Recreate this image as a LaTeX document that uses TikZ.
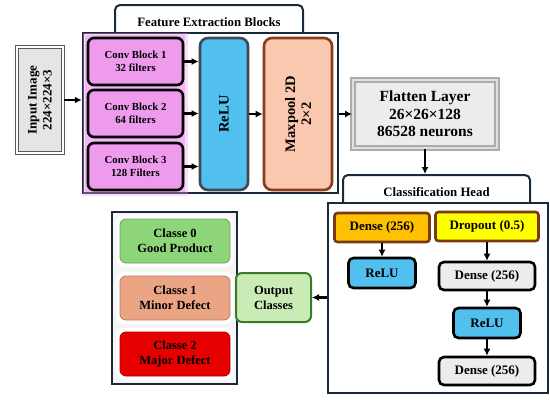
\documentclass[tikz,border=0pt]{standalone}
\usepackage{fontspec}
\setmainfont{Liberation Serif}
\usetikzlibrary{arrows.meta,calc,positioning}
\definecolor{navy}{HTML}{1B2A38}
\definecolor{conv}{HTML}{EE9BEE}
\definecolor{convglow}{HTML}{F3B8F3}
\definecolor{relu}{HTML}{52C0EE}
\definecolor{pool}{HTML}{FAC8AE}
\definecolor{poolrim}{HTML}{8B3A1A}
\definecolor{amber}{HTML}{FFC000}
\definecolor{lemon}{HTML}{FFFF00}
\definecolor{rim}{HTML}{7A3A10}
\definecolor{good}{HTML}{8ED57A}
\definecolor{minor}{HTML}{EBA584}
\definecolor{major}{HTML}{E60000}
\definecolor{outfill}{HTML}{C8ECB4}
\definecolor{outrim}{HTML}{3B7A2B}
\tikzset{>={Latex[length=7pt,width=7pt]},
  every node/.style={font=\bfseries,align=center,inner sep=1pt},
  frame/.style={draw=navy,line width=2.5pt,fill=white},
  tab/.style={draw=navy,line width=2pt,fill=white,rounded corners=5pt,
    font=\bfseries\fontsize{12.8}{14}\selectfont},
  block/.style={draw=black,line width=2.6pt,rounded corners=6pt},
  convbox/.style={block,fill=conv,minimum width=95pt,minimum height=47pt,
    font=\bfseries\fontsize{10.8}{12.5}\selectfont},
  relubox/.style={block,fill=relu,rounded corners=5pt,minimum width=67pt,minimum height=30pt,
    font=\bfseries\fontsize{13}{14}\selectfont},
  densebox/.style={block,draw=rim,rounded corners=3pt,minimum height=29pt,
    font=\bfseries\fontsize{13}{14}\selectfont},
  graybox/.style={block,fill=gray!15,rounded corners=5pt,minimum width=96pt,minimum height=28pt,
    font=\bfseries\fontsize{13}{14}\selectfont},
  classbox/.style={rounded corners=6pt,line width=.8pt,minimum width=110pt,minimum height=44pt,
    font=\bfseries\fontsize{12.5}{15}\selectfont},
  rotlabel/.style={rotate=90,font=\bfseries\fontsize{14.5}{16}\selectfont},
  link/.style={->,line width=2.2pt}}

\begin{document}
\begin{tikzpicture}[x=1pt,y=-1pt]
\useasboundingbox (0,0) rectangle (550,400);
% title tabs
\node[tab,minimum width=188pt,minimum height=34pt] (feattab) at (209,22) {Feature Extraction Blocks};
\node[tab,minimum width=187pt,minimum height=34pt] (headtab) at (436.5,192) {Classification Head};
% frames
\node[frame,minimum width=255pt,minimum height=160pt] (feat) at (210.5,113) {};
\node[frame,minimum width=220pt,minimum height=190pt] (head) at (438,298) {};
\node[frame,fill=gray!8,minimum width=125pt,minimum height=172pt] (panel) at (174.5,298) {};
% conv panel with glow
\draw[conv,line width=5pt,opacity=.35] (85,35) rectangle (185,193);
\fill[convglow] (85,35) rectangle (185,192);
% feature extraction
\node[block,fill=relu,draw=navy!85,rounded corners=8pt,minimum width=48pt,minimum height=152pt,
  label={[rotlabel]center:ReLU}] (relu) at (224,114) {};
\node[block,fill=pool,draw=poolrim,rounded corners=8pt,minimum width=68pt,minimum height=152pt,
  label={[rotlabel]center:Maxpool 2D\\2×2}] (pool) at (298,114) {};
\foreach \i/\y/\n in {1/61.5/32 filters,2/113.5/64 filters,3/166.5/128 Filters}{
  \node[convbox] (conv\i) at (135.5,\y) {Conv Block \i\\\n};
  \draw[link] (conv\i.east) -- (conv\i.east -| relu.west);}
\draw[link] (relu.east) -- (pool.west);
% input and flatten
\node[draw=gray!70!black,double=white,double distance=1.5pt,line width=1.5pt,fill=gray!20,
  minimum width=46pt,minimum height=106pt,
  label={[rotlabel,font=\bfseries\fontsize{13}{15}\selectfont]center:Input Image\\224×224×3}] (input) at (40,100) {};
\node[draw=gray!65,double=gray!25,double distance=2pt,line width=1.8pt,fill=gray!15,
  minimum width=144pt,minimum height=68pt,font=\bfseries\fontsize{15.5}{17.5}\selectfont] (flatten) at (425,114)
  {Flatten Layer\\26×26×128\\86528 neurons};
\draw[link] (input.east) -- (input.east -| feat.west);
\draw[link] (feat.east |- flatten) -- (flatten.west);
\draw[link] (flatten.south) -- (flatten.south |- headtab.north);
% classification head
\node[densebox,fill=amber,minimum width=95pt] (dense1) at (382,227.5) {Dense (256)};
\node[relubox] (relu1) at (382,273) {ReLU};
\node[densebox,fill=lemon,minimum width=103pt] (drop) at (487,226.5) {Dropout (0.5)};
\node[graybox] (dense2) at (487,276) {Dense (256)};
\node[relubox] (relu2) at (487,323) {ReLU};
\node[graybox] (dense3) at (487,371) {Dense (256)};
\draw[link] (dense1) -- (relu1);
\draw[link] (drop) -- (dense2);
\draw[link] (dense2) -- (relu2);
\draw[link] (relu2) -- (dense3);
% outputs
\foreach \i/\y/\c/\t in {0/241/good/Good Product,1/298/minor/Minor Defect,2/354/major/Major Defect}{
  \fill[white,rounded corners=8pt] (116,\y-26) rectangle (233,\y+26);
  \node[classbox,fill=\c,draw=\c!75!black] (class\i) at (175,\y) {Classe \i\\\t};}
\node[classbox,fill=outfill,draw=outrim,line width=2pt,minimum width=75pt,minimum height=49pt,
  font=\bfseries\fontsize{12.5}{15}\selectfont] (output) at (273.5,297.5) {Output\\Classes};
\draw[link] (head.west |- output) -- (output.east);
\end{tikzpicture}
\end{document}
